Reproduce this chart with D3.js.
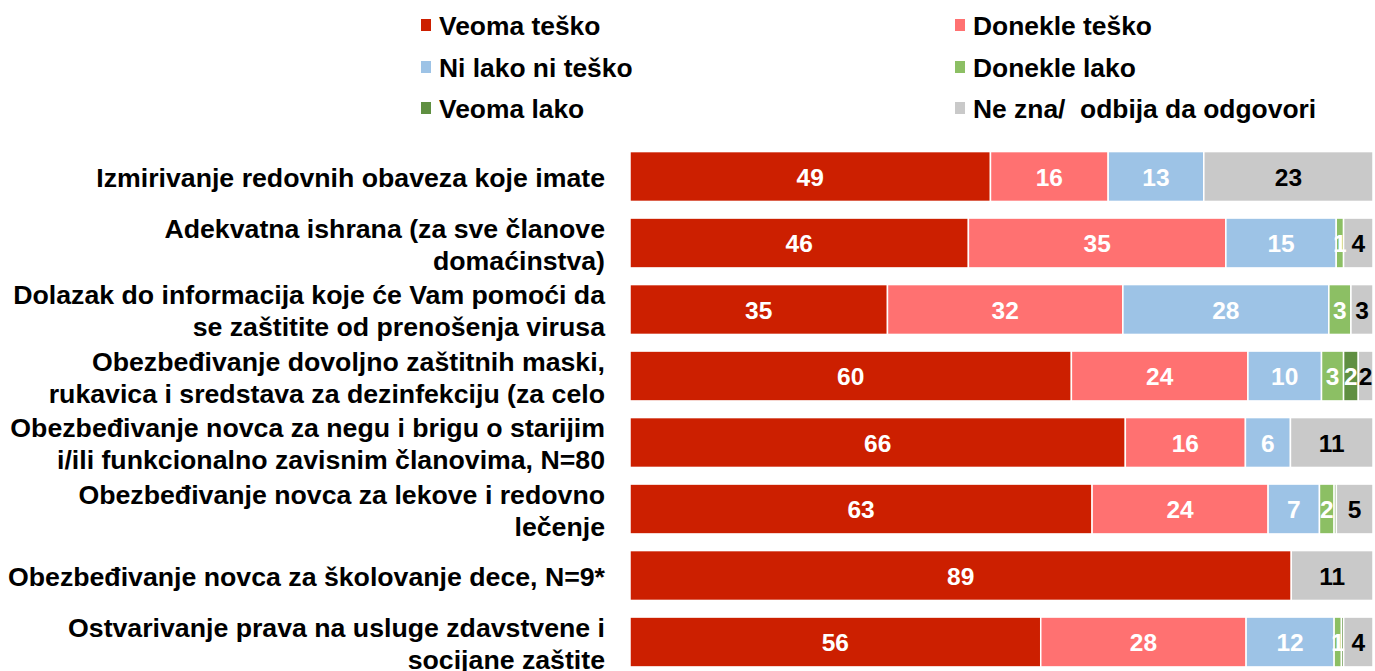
<!DOCTYPE html>
<html>
<head>
<meta charset="utf-8">
<script src="https://cdn.jsdelivr.net/npm/d3@7"></script>
<style>
  html, body { margin: 0; padding: 0; background: #ffffff; }
  svg { display: block; font-family: "Liberation Sans", Arial, sans-serif; font-weight: bold; }
</style>
</head>
<body>
<svg id="chart" width="1375" height="671"></svg>
<script>
// Row labels (line breaks as they are wrapped on the chart)
const categories = [
  "Izmirivanje redovnih obaveza koje imate",
  "Adekvatna ishrana (za sve članove\ndomaćinstva)",
  "Dolazak do informacija koje će Vam pomoći da\nse zaštitite od prenošenja virusa",
  "Obezbeđivanje dovoljno zaštitnih maski,\nrukavica i sredstava za dezinfekciju (za celo",
  "Obezbeđivanje novca za negu i brigu o starijim\ni/ili funkcionalno zavisnim članovima, N=80",
  "Obezbeđivanje novca za lekove i redovno\nlečenje",
  "Obezbeđivanje novca za školovanje dece, N=9*",
  "Ostvarivanje prava na usluge zdavstvene i\nsocijane zaštite"
];

// Answer categories (legend order)
const seriesNames = [
  "Veoma teško", "Donekle teško", "Ni lako ni teško",
  "Donekle lako", "Veoma lako", "Ne zna/  odbija da odgovori"
];
const seriesColors = ["#cc1f00", "#ff7171", "#9dc3e6", "#8cbf64", "#5f8f41", "#c9c9c9"];

// Percent of respondents per row
const veomaTesko    = [49, 46, 35, 60, 66, 63, 89, 56];
const donekleTesko  = [16, 35, 32, 24, 16, 24, 0, 28];
const niLakoNiTesko = [13, 15, 28, 10, 6, 7, 0, 12];
const donekleLako   = [0, 1, 3, 3, 0, 2, 0, 1];
const veomaLako     = [0, 0, 0, 2, 0, 0.3, 0, 0.3];
const neZna         = [23, 4, 3, 2, 11, 5, 11, 4];

const seriesValues = [veomaTesko, donekleTesko, niLakoNiTesko, donekleLako, veomaLako, neZna];

const rows = categories.map((c, i) => {
  const r = { category: c };
  seriesNames.forEach((s, k) => { r[s] = seriesValues[k][i]; });
  return r;
});

const svg = d3.select("#chart");

const x = d3.scaleLinear().domain([0, 1]).range([630, 1373]);
const y = d3.scaleBand()
  .domain(categories)
  .range([143.25, 675.25])
  .paddingInner(0.25)
  .paddingOuter(0.125);

const stack = d3.stack()
  .keys(seriesNames)
  .offset(d3.stackOffsetExpand);
const layers = stack(rows);

// Bars
const layerG = svg.append("g").selectAll("g")
  .data(layers)
  .join("g")
  .attr("fill", (d, i) => seriesColors[i]);

layerG.selectAll("rect")
  .data(d => d.filter(p => p.data[d.key] > 0).map(p => ({ p, key: d.key })))
  .join("rect")
  .attr("x", d => x(d.p[0]))
  .attr("y", d => y(d.p.data.category))
  .attr("width", d => Math.max(0, x(d.p[1]) - x(d.p[0])))
  .attr("height", y.bandwidth())
  .attr("stroke", "#ffffff")
  .attr("stroke-width", 1.5);

// Value labels
layers.forEach((layer, i) => {
  const isLast = i === layers.length - 1;
  svg.append("g").selectAll("text")
    .data(layer.filter(p => p.data[layer.key] >= 0.5))
    .join("text")
    .attr("x", p => (x(p[0]) + x(p[1])) / 2)
    .attr("y", p => y(p.data.category) + y.bandwidth() / 2)
    .attr("dy", "0.38em")
    .attr("text-anchor", "middle")
    .attr("font-size", 24.5)
    .attr("fill", isLast ? "#000000" : "#ffffff")
    .text(p => Math.round(p.data[layer.key]));
});

// Row labels
const lineH = 32;
const labelG = svg.append("g");
categories.forEach(c => {
  const lines = c.split("\n");
  const cy = y(c) + y.bandwidth() / 2;
  const t = labelG.append("text")
    .attr("text-anchor", "end")
    .attr("font-size", 26.7)
    .attr("fill", "#000000");
  lines.forEach((ln, j) => {
    t.append("tspan")
      .attr("x", 605)
      .attr("y", cy + (j - (lines.length - 1) / 2) * lineH)
      .attr("dy", "0.4em")
      .text(ln);
  });
});

// Legend: two columns, three rows
const legendCols = [421, 955];
const legendRows = [25, 67, 108];
const legend = svg.append("g").selectAll("g")
  .data(seriesNames)
  .join("g")
  .attr("transform", (d, i) => `translate(${legendCols[i % 2]},${legendRows[Math.floor(i / 2)]})`);

legend.append("rect")
  .attr("x", 0)
  .attr("y", -6)
  .attr("width", 10)
  .attr("height", 12)
  .attr("fill", (d, i) => seriesColors[i]);

legend.append("text")
  .attr("x", 18)
  .attr("dy", "0.36em")
  .attr("font-size", 26.4)
  .style("white-space", "pre")
  .attr("fill", "#000000")
  .text(d => d);
</script>
</body>
</html>
